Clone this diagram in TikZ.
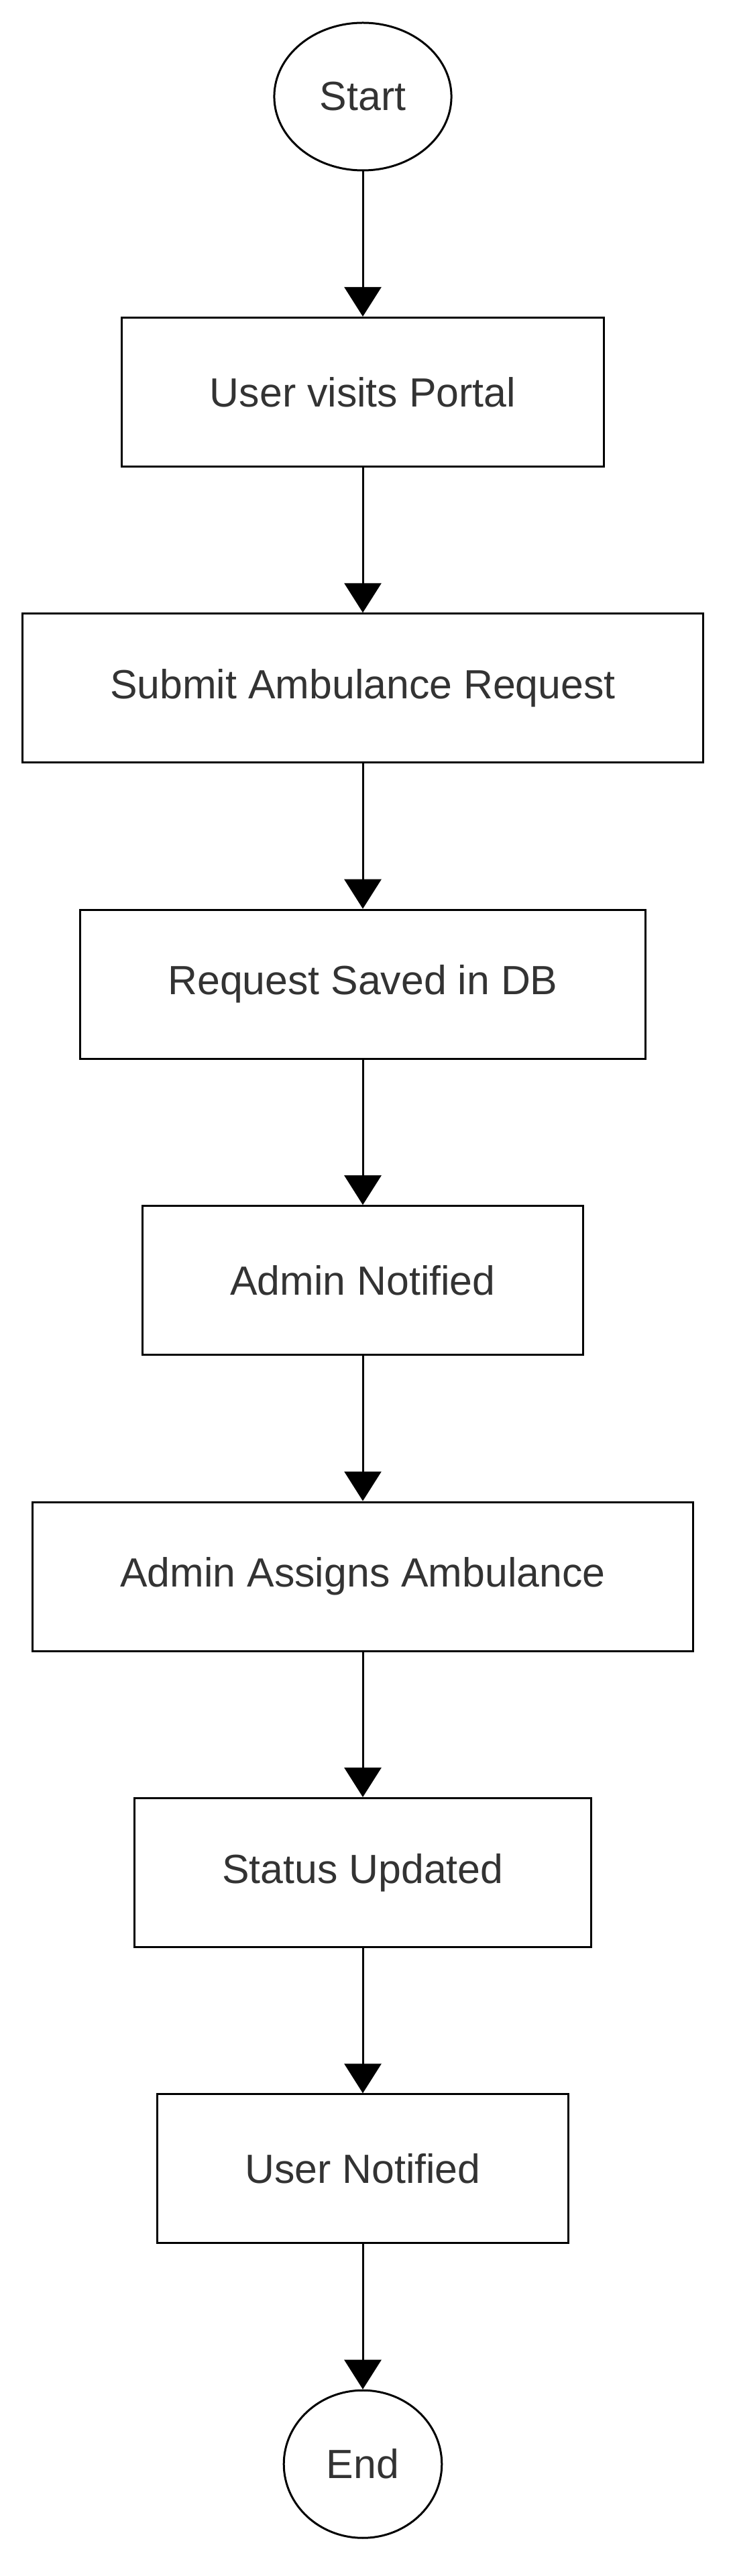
\documentclass[tikz,border=0pt]{standalone}
\usepackage{fontspec}
\setmainfont{Liberation Sans}
\usepackage{tikz}
\usetikzlibrary{positioning,shapes,arrows.meta}
\definecolor{txtgray}{HTML}{333333}

\begin{document}
\begin{tikzpicture}[
		node distance=54.1pt,
		every node/.style={font=\fontsize{15.2pt}{18pt}\selectfont,text=txtgray},
		box/.style={shape=rectangle,draw=black,line width=0.75pt,minimum height=55.5pt,inner xsep=32.75pt},
		term/.style={shape=ellipse,draw=black,line width=0.75pt,minimum height=55pt,inner xsep=7.3pt},
		flow/.style={-{Triangle[length=11pt,width=13.75pt]},line width=0.75pt}
	]
		\useasboundingbox (0,0) rectangle (273pt,-960pt);
		\begin{scope}
			\node(start) [term] at (135.25pt,-36pt) {Start};
			\node(portal) [box,below=of start] {User visits Portal};
			\node(submit) [box,below=of portal] {Submit Ambulance Request};
			\node(saved) [box,below=of submit] {Request Saved in DB};
			\node(adminnote) [box,below=of saved] {Admin Notified};
			\node(assign) [box,below=of adminnote] {Admin Assigns Ambulance};
			\node(status) [box,below=of assign] {Status Updated};
			\node(usernote) [box,below=of status] {User Notified};
			\node(finish) [term,below=of usernote] {End};
			\path[flow]
				(start)     edge (portal)
				(portal)    edge (submit)
				(submit)    edge (saved)
				(saved)     edge (adminnote)
				(adminnote) edge (assign)
				(assign)    edge (status)
				(status)    edge (usernote)
				(usernote)  edge (finish);
		\end{scope}
	\end{tikzpicture}
\end{document}
